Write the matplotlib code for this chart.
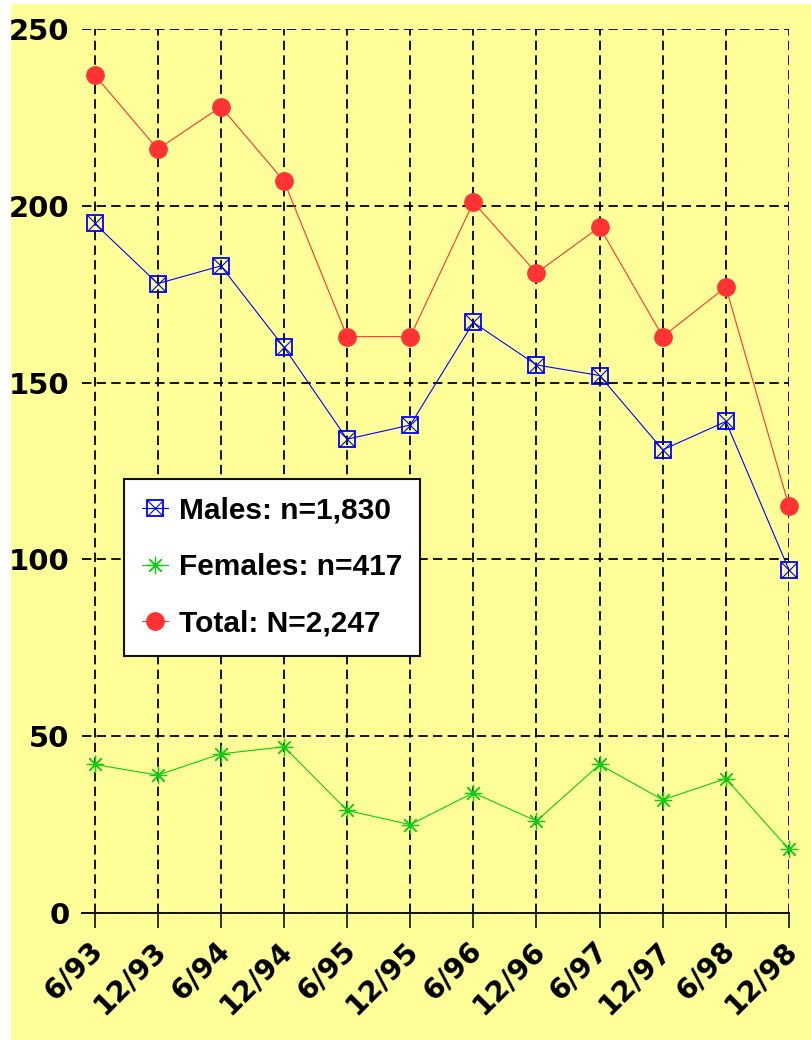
import matplotlib.pyplot as plt
from matplotlib.patches import Rectangle
from matplotlib.lines import Line2D
import matplotlib.transforms as mtransforms

# data
periods = ['6/93', '12/93', '6/94', '12/94', '6/95', '12/95',
           '6/96', '12/96', '6/97', '12/97', '6/98', '12/98']
males = [195, 178, 183, 160, 134, 138, 167, 155, 152, 131, 139, 97]
females = [42, 39, 45, 47, 29, 25, 34, 26, 42, 32, 38, 18]
total = [237, 216, 228, 207, 163, 163, 201, 181, 194, 163, 177, 115]

labels = ['Males: n=1,830', 'Females: n=417', 'Total: N=2,247']

BG = '#ffff99'
BLUE = '#0000ff'
GREEN = '#11cc11'
RED = '#ff3333'

fig = plt.figure(figsize=(8.12, 10.4), dpi=100, facecolor='white')
# yellow panel, leaving a thin white strip on the left and top
fig.patches.append(Rectangle((11 / 812, 0), 1, 1 - 4 / 1040, transform=fig.transFigure,
                             facecolor=BG, edgecolor='none', zorder=-10))

ax = fig.add_axes([82 / 812, 1 - 913 / 1040, (789 - 82) / 812, (913 - 29) / 1040])
ax.set_facecolor(BG)

x = list(range(len(periods)))

ax.plot(x, total, color=RED, lw=0.8, marker='o', ms=12.5, mfc=RED, mec=RED,
        clip_on=False, zorder=5)
ax.plot(x, males, color=BLUE, lw=0.8, marker='s', ms=12, mfc='none', mec=BLUE,
        mew=1.3, clip_on=False, zorder=5)
ax.plot(x, males, color=BLUE, lw=0, marker='x', ms=12, mec=BLUE, mew=0.8,
        clip_on=False, zorder=5)
ax.plot(x, females, color=GREEN, lw=0.8, marker=(8, 2, 0), ms=12.5, mec=GREEN,
        mew=0.9, clip_on=False, zorder=5)

ax.set_xlim(-0.2, 11)
ax.set_ylim(0, 250)
ax.set_yticks([0, 50, 100, 150, 200, 250])
ax.set_xticks(x)
ax.set_xticklabels(periods)

ax.grid(True, color='#000000', lw=1.3, linestyle=(0, (5.2, 2.9)))
ax.set_axisbelow(True)

for side in ['top', 'right', 'left']:
    ax.spines[side].set_visible(False)
ax.spines['bottom'].set_linewidth(1.4)
ax.spines['bottom'].set_color('#111111')

ax.tick_params(axis='y', length=0, pad=9)
ax.tick_params(axis='x', direction='out', length=11, width=1.2, color='#111111', pad=6)

for t in ax.get_yticklabels():
    t.set_fontfamily('DejaVu Sans')
    t.set_fontweight('bold')
    t.set_fontsize(21)

offset = mtransforms.ScaledTranslation(14 / 100, 0, fig.dpi_scale_trans)
for t in ax.get_xticklabels():
    t.set_fontfamily('DejaVu Sans')
    t.set_fontweight('bold')
    t.set_fontsize(20.5)
    t.set_rotation(45)
    t.set_ha('right')
    t.set_va('top')
    t.set_transform(t.get_transform() + offset)

handles = [
    (Line2D([], [], color=BLUE, lw=0.8, marker='s', ms=12, mfc='none', mec=BLUE, mew=1.3),
     Line2D([], [], color=BLUE, lw=0, marker='x', ms=12, mec=BLUE, mew=0.8)),
    Line2D([], [], color=GREEN, lw=0.8, marker=(8, 2, 0), ms=12.5, mec=GREEN, mew=0.9),
    Line2D([], [], color=RED, lw=0.8, marker='o', ms=12.5, mfc=RED, mec=RED),
]
leg = fig.legend(handles, labels, loc='upper left',
                 bbox_to_anchor=(124 / 812, 1 - 479 / 1040),
                 prop={'family': 'Liberation Sans', 'weight': 'bold', 'size': 21.5},
                 frameon=True, fancybox=False, framealpha=1, facecolor='white',
                 edgecolor='#111111', borderpad=0.6, labelspacing=0.95,
                 handlelength=0.87, handletextpad=0.37, borderaxespad=0)
leg.get_frame().set_linewidth(1.5)
leg.set_zorder(10)

fig.savefig('out.png', dpi=100, facecolor=fig.get_facecolor())
